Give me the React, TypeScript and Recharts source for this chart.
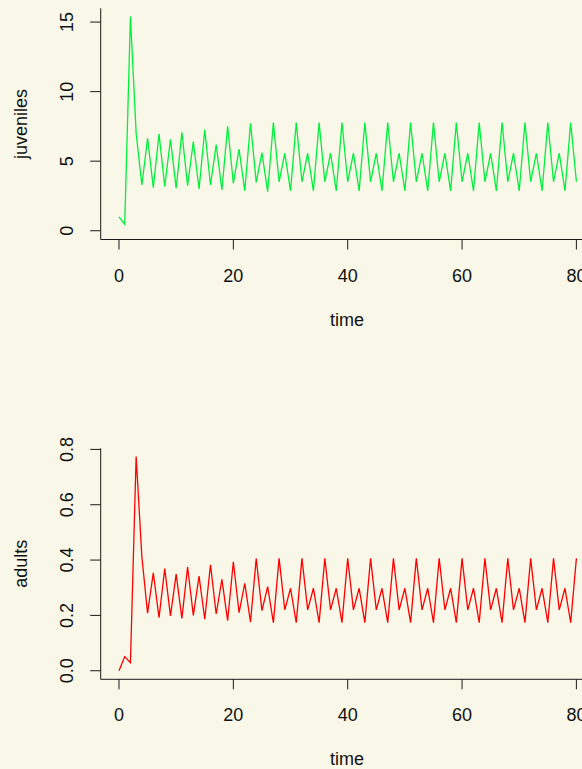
import React from 'react';
import { LineChart, Line, XAxis, YAxis } from 'recharts';

const time = [
  0, 1, 2, 3, 4, 5, 6, 7, 8, 9, 10, 11, 12, 13, 14, 15, 16, 17, 18, 19, 20,
  21, 22, 23, 24, 25, 26, 27, 28, 29, 30, 31, 32, 33, 34, 35, 36, 37, 38, 39, 40,
  41, 42, 43, 44, 45, 46, 47, 48, 49, 50, 51, 52, 53, 54, 55, 56, 57, 58, 59, 60,
  61, 62, 63, 64, 65, 66, 67, 68, 69, 70, 71, 72, 73, 74, 75, 76, 77, 78, 79, 80,
];

const juveniles = [
  1.0, 0.46, 15.4, 7.0, 3.29, 6.65, 3.09, 6.96, 3.17, 6.57, 3.05,
  7.08, 3.24, 6.4, 3.0, 7.27, 3.29, 6.19, 2.93, 7.51, 3.41,
  5.86, 2.86, 7.73, 3.48, 5.61, 2.81, 7.77, 3.52, 5.57, 2.86,
  7.77, 3.52, 5.57, 2.86, 7.77, 3.52, 5.57, 2.86, 7.77, 3.52,
  5.57, 2.86, 7.77, 3.52, 5.57, 2.86, 7.77, 3.52, 5.57, 2.86,
  7.77, 3.52, 5.57, 2.86, 7.77, 3.52, 5.57, 2.86, 7.77, 3.52,
  5.57, 2.86, 7.77, 3.52, 5.57, 2.86, 7.77, 3.52, 5.57, 2.86,
  7.77, 3.52, 5.57, 2.86, 7.77, 3.52, 5.57, 2.86, 7.77, 3.52,
];

const adults = [
  0.0, 0.051, 0.029, 0.774, 0.412, 0.208, 0.354, 0.192, 0.369, 0.198, 0.349,
  0.189, 0.375, 0.2, 0.342, 0.186, 0.383, 0.205, 0.33, 0.181, 0.394,
  0.21, 0.316, 0.176, 0.405, 0.217, 0.304, 0.174, 0.406, 0.22, 0.298,
  0.174, 0.406, 0.22, 0.298, 0.174, 0.406, 0.22, 0.298, 0.174, 0.406,
  0.22, 0.298, 0.174, 0.406, 0.22, 0.298, 0.174, 0.406, 0.22, 0.298,
  0.174, 0.406, 0.22, 0.298, 0.174, 0.406, 0.22, 0.298, 0.174, 0.406,
  0.22, 0.298, 0.174, 0.406, 0.22, 0.298, 0.174, 0.406, 0.22, 0.298,
  0.174, 0.406, 0.22, 0.298, 0.174, 0.406, 0.22, 0.298, 0.174, 0.406,
];

const timeTicks = [0, 20, 40, 60, 80];
const juvenileTicks = [0, 5, 10, 15];
const adultTicks = [0, 0.2, 0.4, 0.6, 0.8];

const juvData = time.map((t, i) => ({ t, v: juveniles[i] }));
const adultData = time.map((t, i) => ({ t, v: adults[i] }));

const FONT = '"Liberation Sans", Arial, Helvetica, sans-serif';
const BG = '#f8f7e8';
const FS = 18;
const AXIS = '#1a1a1a';

const XTick = (props: any) => {
  const { x, y, payload } = props;
  return (
    <text x={x} y={y + 32} textAnchor="middle" fontSize={FS} fontFamily={FONT} fill="#111">
      {payload.value}
    </text>
  );
};

const makeYTick = (digits: number) => (props: any) => {
  const { x, y, payload } = props;
  const label = digits > 0 ? Number(payload.value).toFixed(digits) : String(payload.value);
  return (
    <text
      transform={`translate(${x - 17},${y}) rotate(-90)`}
      textAnchor="middle"
      fontSize={FS}
      fontFamily={FONT}
      fill="#111"
    >
      {label}
    </text>
  );
};

const Title = (props: any) => {
  const { tx, ty, rotate, text } = props;
  return (
    <text
      transform={`translate(${tx},${ty})${rotate ? ' rotate(-90)' : ''}`}
      textAnchor="middle"
      fontSize={FS}
      fontFamily={FONT}
      fill="#111"
    >
      {text}
    </text>
  );
};

const W = 600;
const PLOT_LEFT = 100.7;
const PLOT_RIGHT_MARGIN = W - 594.7;

export default function App() {
  const H1 = 340;
  const top1 = 8.3;
  const bottom1 = 239.5;
  const H2 = 369;
  const off2 = 400;
  const top2 = 448.3 - off2;
  const bottom2 = 679.3 - off2;
  return (
    <div
      style={{
        position: 'absolute',
        left: 0,
        top: 0,
        width: 582,
        height: 769,
        overflow: 'hidden',
        background: BG,
      }}
    >
      <div style={{ position: 'absolute', left: 0, top: 0 }}>
        <LineChart
          width={W}
          height={H1}
          data={juvData}
          margin={{ top: top1, right: PLOT_RIGHT_MARGIN, bottom: 0, left: 0 }}
        >
          <XAxis
            dataKey="t"
            type="number"
            domain={[-3.2, 83.2]}
            ticks={timeTicks}
            allowDataOverflow
            height={H1 - bottom1}
            tickSize={10}
            tickMargin={0}
            stroke={AXIS}
            tickLine={{ stroke: AXIS }}
            axisLine={{ stroke: AXIS }}
            tick={<XTick />}
            label={<Title tx={347} ty={325.5} text="time" />}
          />
          <YAxis
            type="number"
            domain={[-0.63, 15.99]}
            ticks={juvenileTicks}
            allowDataOverflow
            width={PLOT_LEFT}
            tickSize={10.5}
            tickMargin={0}
            stroke={AXIS}
            tickLine={{ stroke: AXIS }}
            axisLine={{ stroke: AXIS }}
            tick={makeYTick(0)}
            label={<Title tx={27} ty={(top1 + bottom1) / 2} rotate text="juveniles" />}
          />
          <Line
            type="linear"
            dataKey="v"
            stroke="#00f03c"
            strokeWidth={1.3}
            dot={false}
            isAnimationActive={false}
          />
        </LineChart>
      </div>
      <div style={{ position: 'absolute', left: 0, top: off2 }}>
        <LineChart
          width={W}
          height={H2}
          data={adultData}
          margin={{ top: top2, right: PLOT_RIGHT_MARGIN, bottom: 0, left: 0 }}
        >
          <XAxis
            dataKey="t"
            type="number"
            domain={[-3.2, 83.2]}
            ticks={timeTicks}
            allowDataOverflow
            height={H2 - bottom2}
            tickSize={10}
            tickMargin={0}
            stroke={AXIS}
            tickLine={{ stroke: AXIS }}
            axisLine={{ stroke: AXIS }}
            tick={<XTick />}
            label={<Title tx={347} ty={bottom2 + 86} text="time" />}
          />
          <YAxis
            type="number"
            domain={[-0.031, 0.804]}
            ticks={adultTicks}
            allowDataOverflow
            width={PLOT_LEFT}
            tickSize={10.5}
            tickMargin={0}
            stroke={AXIS}
            tickLine={{ stroke: AXIS }}
            axisLine={{ stroke: AXIS }}
            tick={makeYTick(1)}
            label={<Title tx={27} ty={(top2 + bottom2) / 2} rotate text="adults" />}
          />
          <Line
            type="linear"
            dataKey="v"
            stroke="#ff0000"
            strokeWidth={1.3}
            dot={false}
            isAnimationActive={false}
          />
        </LineChart>
      </div>
    </div>
  );
}
